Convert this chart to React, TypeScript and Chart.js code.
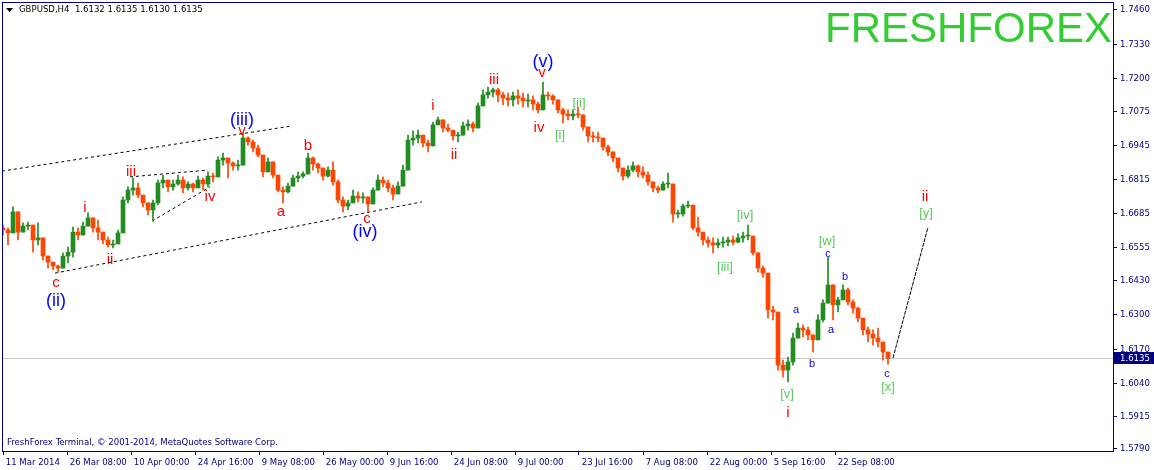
import React, { useEffect, useRef } from 'react';
import { Chart, registerables } from 'chart.js';

Chart.register(...registerables);

const symbolHeader = 'GBPUSD,H4  1.6132 1.6135 1.6130 1.6135';
const brandText = 'FRESHFOREX';
const footerText = 'FreshForex Terminal, \u00a9 2001-2014, MetaQuotes Software Corp.';

// each candle summarises 5 H4 bars; x is measured in H4 bars
const candleStep = 5;
const firstBar = 1;
const firstOpen = 1.663;

const closes = [
  1.6623, 1.6612, 1.6692, 1.6615, 1.6638, 1.6642, 1.6585, 1.6593, 1.6524, 1.6501,
  1.6486, 1.6478, 1.6524, 1.6539, 1.6615, 1.6604, 1.6638, 1.6669, 1.6631, 1.6615,
  1.6585, 1.6566, 1.657, 1.6612, 1.6737, 1.6775, 1.6783, 1.6756, 1.6726, 1.6699,
  1.6726, 1.6802, 1.6813, 1.6787, 1.6798, 1.6813, 1.6783, 1.6798, 1.6783, 1.6813,
  1.6798, 1.6828, 1.6825, 1.6889, 1.6897, 1.6878, 1.6867, 1.687, 1.6973, 1.6958,
  1.6935, 1.6908, 1.6844, 1.6882, 1.6832, 1.6775, 1.6768, 1.679, 1.6821, 1.6828,
  1.6836, 1.6897, 1.6874, 1.6859, 1.6828, 1.6851, 1.6806, 1.6737, 1.6714, 1.6726,
  1.6752, 1.6745, 1.6749, 1.6722, 1.6775, 1.6813, 1.6802, 1.6783, 1.676, 1.679,
  1.6851, 1.6965, 1.6973, 1.6984, 1.6954, 1.6943, 1.7023, 1.7042, 1.7011, 1.7003,
  1.6981, 1.6984, 1.7019, 1.7026, 1.7011, 1.7095, 1.7137, 1.7148, 1.7156, 1.7137,
  1.7125, 1.7118, 1.7133, 1.7125, 1.7114, 1.7118, 1.7102, 1.708, 1.7137, 1.7133,
  1.7118, 1.708, 1.7064, 1.7057, 1.7064, 1.7061, 1.7015, 1.6981, 1.6977, 1.6973,
  1.6939, 1.692, 1.6897, 1.6859, 1.6828, 1.6851, 1.6867, 1.6844, 1.6832, 1.6806,
  1.6783, 1.6775, 1.6798, 1.6798, 1.6684, 1.6684, 1.6714, 1.6718, 1.6631, 1.6615,
  1.6585, 1.6574, 1.6566, 1.6574, 1.6577, 1.6585, 1.6577, 1.6593, 1.66, 1.66,
  1.6536, 1.6478, 1.6459, 1.6319, 1.6311, 1.6109, 1.609, 1.6121, 1.6212, 1.625,
  1.6243, 1.6224, 1.6205, 1.6281, 1.6345, 1.6414, 1.6338, 1.6357, 1.6395, 1.6349,
  1.6326, 1.6288, 1.6243, 1.6227, 1.6212, 1.6197, 1.6159, 1.6135,
];

const highs = [
  1.6642, 1.6631, 1.6711, 1.6672, 1.665, 1.6653, 1.6623, 1.665, 1.6547, 1.6517,
  1.6498, 1.649, 1.6536, 1.6558, 1.6634, 1.6631, 1.6653, 1.6688, 1.6669, 1.6661,
  1.6612, 1.6596, 1.6585, 1.6623, 1.6749, 1.6787, 1.6821, 1.6802, 1.6756, 1.6726,
  1.6737, 1.6813, 1.6832, 1.6813, 1.6813, 1.6832, 1.6825, 1.6806, 1.6802, 1.6828,
  1.6821, 1.6844, 1.684, 1.6901, 1.6916, 1.6897, 1.6882, 1.6889, 1.6992, 1.6977,
  1.6965, 1.6946, 1.6901, 1.6897, 1.6878, 1.6832, 1.6787, 1.6802, 1.6832, 1.6844,
  1.6844, 1.6916, 1.6901, 1.6878, 1.6851, 1.6863, 1.6882, 1.6813, 1.6749, 1.6737,
  1.6775, 1.6768, 1.6764, 1.6749, 1.6783, 1.6832, 1.6825, 1.6813, 1.6794, 1.6806,
  1.687, 1.6984, 1.7, 1.7003, 1.6977, 1.6965, 1.7034, 1.7053, 1.7034, 1.7026,
  1.7003, 1.6996, 1.7034, 1.7042, 1.7034, 1.7106, 1.7156, 1.7167, 1.7163, 1.7163,
  1.7148, 1.7144, 1.7148, 1.7156, 1.7144, 1.714, 1.7133, 1.711, 1.7186, 1.7148,
  1.7137, 1.7118, 1.7087, 1.708, 1.708, 1.7091, 1.7049, 1.7015, 1.6996, 1.6996,
  1.6973, 1.6946, 1.692, 1.6889, 1.6851, 1.6867, 1.6882, 1.687, 1.6863, 1.6844,
  1.6806, 1.679, 1.6806, 1.684, 1.6798, 1.6699, 1.6722, 1.6733, 1.6718, 1.6672,
  1.6612, 1.6596, 1.6593, 1.6589, 1.6596, 1.6596, 1.66, 1.6608, 1.6615, 1.6642,
  1.66, 1.6536, 1.6486, 1.6459, 1.6334, 1.6231, 1.6128, 1.614, 1.6231, 1.6269,
  1.6262, 1.6254, 1.6224, 1.63, 1.6357, 1.652, 1.6395, 1.6368, 1.6414, 1.6402,
  1.6357, 1.633, 1.6288, 1.6254, 1.6243, 1.625, 1.6193, 1.6159,
];

const lows = [
  1.6604, 1.6566, 1.6615, 1.6585, 1.6615, 1.6623, 1.6539, 1.6566, 1.6509, 1.6478,
  1.6471, 1.6463, 1.649, 1.6498, 1.652, 1.6585, 1.6604, 1.6642, 1.6615, 1.6585,
  1.657, 1.6558, 1.6555, 1.6585, 1.6612, 1.6726, 1.6756, 1.6745, 1.6711, 1.668,
  1.6657, 1.6718, 1.6783, 1.6768, 1.6775, 1.6794, 1.6764, 1.6775, 1.6768, 1.6787,
  1.6775, 1.6787, 1.6806, 1.6832, 1.687, 1.6821, 1.6851, 1.6851, 1.6882, 1.6946,
  1.692, 1.6901, 1.6825, 1.6851, 1.6821, 1.6768, 1.6726, 1.6764, 1.6794, 1.6806,
  1.6821, 1.6844, 1.6851, 1.684, 1.6813, 1.6825, 1.6794, 1.6726, 1.6692, 1.6699,
  1.6726, 1.673, 1.6726, 1.6692, 1.6737, 1.6775, 1.6787, 1.6768, 1.6737, 1.6775,
  1.6794, 1.6889, 1.6946, 1.6954, 1.6939, 1.692, 1.6965, 1.7023, 1.6996, 1.6996,
  1.6965, 1.6958, 1.6984, 1.7003, 1.6996, 1.7023, 1.711, 1.7125, 1.7129, 1.711,
  1.7099, 1.7095, 1.7095, 1.7102, 1.7091, 1.7091, 1.708, 1.7068, 1.7087, 1.7118,
  1.7102, 1.7068, 1.703, 1.7042, 1.7042, 1.7049, 1.7003, 1.6958, 1.6958, 1.6958,
  1.6927, 1.6905, 1.6882, 1.6844, 1.6813, 1.6821, 1.6844, 1.6825, 1.6821, 1.6794,
  1.6768, 1.6764, 1.6775, 1.6783, 1.6653, 1.6669, 1.6676, 1.6707, 1.6623, 1.66,
  1.6566, 1.6558, 1.6536, 1.6555, 1.6558, 1.6562, 1.6566, 1.6574, 1.6577, 1.6585,
  1.6528, 1.6463, 1.6444, 1.6288, 1.6281, 1.609, 1.6064, 1.6045, 1.6109, 1.6216,
  1.6216, 1.6205, 1.6159, 1.6224, 1.6273, 1.6345, 1.6281, 1.6311, 1.6357, 1.6338,
  1.6307, 1.6273, 1.6224, 1.6197, 1.6186, 1.6178, 1.6128, 1.6113,
];

const xTickBars = [1, 65, 129, 193, 257, 321, 385, 449, 513, 577, 641, 705, 769, 833];
const xTickLabels = [
  '11 Mar 2014', '26 Mar 08:00', '10 Apr 00:00', '24 Apr 16:00', '9 May 08:00',
  '26 May 00:00', '9 Jun 16:00', '24 Jun 08:00', '9 Jul 00:00', '23 Jul 16:00',
  '7 Aug 08:00', '22 Aug 00:00', '5 Sep 16:00', '22 Sep 08:00',
];
const yTickValues = [
  1.746, 1.733, 1.72, 1.7075, 1.6945, 1.6815, 1.6685, 1.6555, 1.643, 1.63, 1.617, 1.604, 1.5915, 1.579,
];
const lastPrice = 1.6135;
const xMax = 1111;
const yMin = 1.57823;
const yMax = 1.74904;

// Elliott wave marks (text, bar, price, kind)
const waveTexts = [
  'c', '(ii)', 'i', 'ii', 'iii', 'iv', '(iii)', 'v', 'a', 'b', 'c', '(iv)',
  'i', 'ii', 'iii', '(v)', 'v', 'iv', '[i]', '[ii]', '[iii]', '[iv]', '[v]', 'i',
  'a', 'b', '[w]', 'c', 'a', 'b', 'c', '[x]', 'ii', '[y]',
];
const waveBars = [
  54, 54, 83, 108, 129, 208, 240, 240, 279, 306, 365, 363,
  431, 452, 492, 541, 540, 537, 558, 577, 723, 743, 785, 786,
  794, 810, 825, 826, 829, 843, 885, 886, 923, 924,
];
const wavePrices = [
  1.6421, 1.6354, 1.6707, 1.6509, 1.6844, 1.6749, 1.7042, 1.7, 1.6692, 1.6943, 1.6665, 1.6615,
  1.7095, 1.6908, 1.7194, 1.7262, 1.722, 1.7011, 1.6984, 1.7106, 1.6482, 1.668, 1.5999, 1.5927,
  1.6319, 1.6113, 1.6581, 1.6532, 1.6243, 1.6444, 1.6075, 1.6026, 1.6749, 1.6688,
];
const waveKinds = [
  'red', 'blueBig', 'red', 'red', 'red', 'red', 'blueBig', 'red', 'red', 'red', 'red', 'blueBig',
  'red', 'red', 'red', 'blueBig', 'red', 'red', 'green', 'green', 'green', 'green', 'green', 'red',
  'blue', 'blue', 'green', 'blue', 'blue', 'blue', 'blue', 'green', 'red', 'green',
];

// trend lines: [bar, price] pairs
const channelUpper = [[0, 1.6847], [290, 1.7019]];
const channelLower = [[53, 1.6459], [420, 1.673]];
const triangleUpper = [[128, 1.6825], [206, 1.6851]];
const triangleLower = [[150, 1.6657], [208, 1.6787]];
const forecastLine = [[891, 1.6136], [926, 1.6634]];

const NAVY = '#000080';
const UP = '#228B22';
const DOWN = '#FF4500';
const AXIS_FONT = "'DejaVu Sans Condensed', 'Liberation Sans', sans-serif";
const LABEL_FONT = "'Liberation Sans', Arial, sans-serif";

const kindStyle: Record<string, { color: string; size: number }> = {
  red: { color: '#FF0000', size: 15 },
  blueBig: { color: '#0000FF', size: 18 },
  blue: { color: '#0000FF', size: 11 },
  green: { color: '#5CC85C', size: 13 },
};

export default function App() {
  const ref = useRef<HTMLCanvasElement | null>(null);

  useEffect(() => {
    const canvas = ref.current;
    if (!canvas) return;

    const opens = closes.map((c, i) => (i === 0 ? firstOpen : closes[i - 1]));
    const xs = closes.map((_, i) => firstBar + i * candleStep);
    const colors = closes.map((c, i) => (c >= opens[i] ? UP : DOWN));
    const bodyData = closes.map((c, i) => ({ x: xs[i], y: [opens[i], c] }));
    const wickData = closes.map((c, i) => ({
      x: xs[i],
      y: [Math.min(lows[i], opens[i], c), Math.max(highs[i], opens[i], c)],
    }));

    const lineDs = (pts: number[][], dash: number[]) => ({
      type: 'line' as const,
      data: pts.map((p) => ({ x: p[0], y: p[1] })),
      borderColor: '#000000',
      borderWidth: 1,
      borderDash: dash,
      pointRadius: 0,
      fill: false,
      tension: 0,
      order: 2,
    });

    const decorations = {
      id: 'mt4deco',
      beforeDraw(chart: any) {
        const { ctx } = chart;
        ctx.save();
        ctx.fillStyle = '#ffffff';
        ctx.fillRect(0, 0, chart.width, chart.height);
        ctx.restore();
      },
      beforeDatasetsDraw(chart: any) {
        const { ctx, chartArea } = chart;
        const y = Math.round(chart.scales.y.getPixelForValue(lastPrice)) + 0.5;
        ctx.save();
        ctx.strokeStyle = '#C8C8C8';
        ctx.lineWidth = 1;
        ctx.beginPath();
        ctx.moveTo(chartArea.left, y);
        ctx.lineTo(chartArea.right, y);
        ctx.stroke();
        ctx.restore();
      },
      afterDatasetsDraw(chart: any) {
        const { ctx } = chart;
        const xs2 = chart.scales.x;
        const ys2 = chart.scales.y;
        ctx.save();
        ctx.textAlign = 'center';
        ctx.textBaseline = 'middle';
        waveTexts.forEach((t, i) => {
          const st = kindStyle[waveKinds[i]];
          ctx.font = `${st.size}px ${LABEL_FONT}`;
          ctx.fillStyle = st.color;
          ctx.fillText(t, xs2.getPixelForValue(waveBars[i]), ys2.getPixelForValue(wavePrices[i]));
        });
        ctx.restore();
      },
      afterDraw(chart: any) {
        const { ctx, chartArea } = chart;
        ctx.save();
        // frame
        ctx.strokeStyle = NAVY;
        ctx.lineWidth = 1;
        ctx.strokeRect(chartArea.left + 0.5, chartArea.top + 0.5, chartArea.right - chartArea.left, chartArea.bottom - chartArea.top);
        // brand
        ctx.font = `42px ${LABEL_FONT}`;
        ctx.fillStyle = '#33CC33';
        ctx.textAlign = 'right';
        ctx.textBaseline = 'alphabetic';
        ctx.fillText(brandText, chartArea.right - 1, chartArea.top + 40);
        // header
        ctx.fillStyle = '#000000';
        ctx.beginPath();
        ctx.moveTo(chartArea.left + 4, chartArea.top + 6);
        ctx.lineTo(chartArea.left + 11, chartArea.top + 6);
        ctx.lineTo(chartArea.left + 7.5, chartArea.top + 10);
        ctx.closePath();
        ctx.fill();
        ctx.font = `9.5px ${AXIS_FONT}`;
        ctx.textAlign = 'left';
        ctx.textBaseline = 'middle';
        ctx.fillText(symbolHeader, chartArea.left + 17, chartArea.top + 8);
        // footer
        ctx.fillStyle = NAVY;
        ctx.fillText(footerText, chartArea.left + 5, chartArea.bottom - 8);
        // current price box
        const y = Math.round(chart.scales.y.getPixelForValue(lastPrice));
        ctx.fillStyle = NAVY;
        ctx.fillRect(chartArea.right + 1, y - 6, chart.width - chartArea.right - 1, 12);
        ctx.fillStyle = '#ffffff';
        ctx.fillText(lastPrice.toFixed(4), chartArea.right + 7, y + 0.5);
        ctx.restore();
      },
    };

    const chart = new Chart(canvas, {
      type: 'bar',
      data: {
        datasets: [
          {
            type: 'bar',
            data: wickData as any,
            backgroundColor: colors,
            borderWidth: 0,
            barThickness: 1,
            grouped: false,
            order: 1,
          } as any,
          {
            type: 'bar',
            data: bodyData as any,
            backgroundColor: colors,
            borderWidth: 0,
            barThickness: 4,
            minBarLength: 1,
            grouped: false,
            order: 0,
          } as any,
          lineDs(channelUpper, [3, 3]),
          lineDs(channelLower, [3, 3]),
          lineDs(triangleUpper, [3, 3]),
          lineDs(triangleLower, [3, 3]),
          lineDs(forecastLine, [4, 1]),
        ] as any,
      },
      options: {
        responsive: false,
        animation: false,
        devicePixelRatio: 1,
        layout: { padding: { left: 2, top: 2, right: 0, bottom: 0 } },
        plugins: { legend: { display: false }, tooltip: { enabled: false } },
        scales: {
          x: {
            type: 'linear',
            min: 0,
            max: xMax,
            offset: false,
            grid: { display: true, offset: false, drawOnChartArea: false, drawTicks: true, tickLength: 4, color: NAVY },
            border: { display: false },
            ticks: {
              autoSkip: false,
              maxRotation: 0,
              minRotation: 0,
              align: 'start',
              padding: 2,
              color: NAVY,
              font: { family: AXIS_FONT, size: 9.5 },
              callback: (_v: any, i: number) => ' ' + xTickLabels[i],
            },
            afterBuildTicks: (s: any) => {
              s.ticks = xTickBars.map((v) => ({ value: v }));
            },
            afterFit: (s: any) => {
              s.height = 19;
              s.paddingLeft = 0;
              s.paddingRight = 0;
            },
          },
          y: {
            type: 'linear',
            position: 'right',
            min: yMin,
            max: yMax,
            grid: { display: true, drawOnChartArea: false, drawTicks: true, tickLength: 4, color: NAVY },
            border: { display: false },
            ticks: {
              autoSkip: false,
              padding: 3,
              color: NAVY,
              font: { family: AXIS_FONT, size: 9.5 },
              callback: (v: any) => Number(v).toFixed(4),
            },
            afterBuildTicks: (s: any) => {
              s.ticks = yTickValues.map((v) => ({ value: v }));
            },
            afterFit: (s: any) => {
              s.width = 41;
              s.paddingTop = 0;
              s.paddingBottom = 0;
            },
          },
        },
      } as any,
      plugins: [decorations],
    });

    return () => chart.destroy();
  }, []);

  return (
    <div style={{ position: 'fixed', left: 0, top: 0, width: 1154, height: 470, background: '#ffffff' }}>
      <canvas ref={ref} width={1154} height={470} style={{ display: 'block', width: 1154, height: 470 }} />
    </div>
  );
}
